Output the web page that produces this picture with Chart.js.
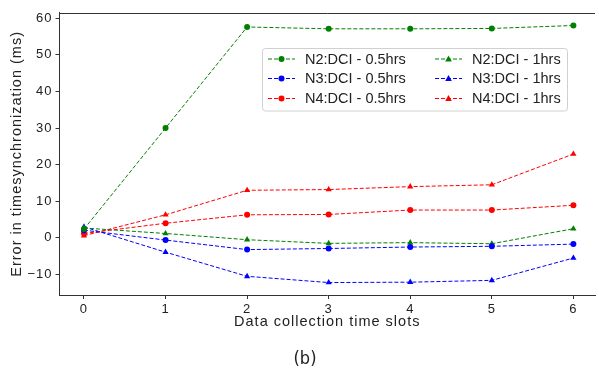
<!DOCTYPE html>
<html>
<head>
<meta charset="utf-8">
<script src="https://cdn.jsdelivr.net/npm/chart.js@4.4.1/dist/chart.umd.min.js"></script>
<style>
  html, body { margin: 0; padding: 0; background: #fff; }
  #wrap { width: 599px; height: 369px; position: relative; }
</style>
</head>
<body>
<div id="wrap"><canvas id="chart" width="599" height="369"></canvas></div>
<script>
// ── Data ───────────────────────────────────────────────────────────────────
const timeSlots = [0, 1, 2, 3, 4, 5, 6];
const seriesNames = [
  'N2:DCI - 0.5hrs', 'N3:DCI - 0.5hrs', 'N4:DCI - 0.5hrs',
  'N2:DCI - 1hrs',   'N3:DCI - 1hrs',   'N4:DCI - 1hrs'
];
const n2Half = [2.4, 30.0, 57.6, 57.1, 57.1, 57.2, 58.0];
const n3Half = [2.1, -0.6, -3.2, -2.9, -2.5, -2.3, -1.7];
const n4Half = [1.2, 4.0, 6.3, 6.4, 7.6, 7.6, 8.9];
const n2Hour = [2.7, 1.2, -0.5, -1.5, -1.3, -1.6, 2.5];
const n3Hour = [3.0, -3.9, -10.5, -12.2, -12.1, -11.6, -5.5];
const n4Hour = [0.6, 6.3, 13.0, 13.2, 14.0, 14.5, 22.9];
const yTicks = [-10, 0, 10, 20, 30, 40, 50, 60];
const xTicks = [0, 1, 2, 3, 4, 5, 6];

const GREEN = '#008000', BLUE = '#0000ff', RED = '#ff0000';
const FONT = '"Liberation Sans", Arial, sans-serif';

function mkSet(label, values, color, marker) {
  return {
    label,
    data: values.map((v, i) => ({ x: timeSlots[i], y: v })),
    borderColor: color,
    backgroundColor: color,
    borderWidth: 1,
    borderDash: [4, 2],
    pointStyle: marker,
    pointRadius: marker === 'triangle' ? 3.6 : 3,
    pointBorderWidth: 0,
    tension: 0,
    fill: false,
  };
}

const datasets = [
  mkSet(seriesNames[0], n2Half, GREEN, 'circle'),
  mkSet(seriesNames[1], n3Half, BLUE, 'circle'),
  mkSet(seriesNames[2], n4Half, RED, 'circle'),
  mkSet(seriesNames[3], n2Hour, GREEN, 'triangle'),
  mkSet(seriesNames[4], n3Hour, BLUE, 'triangle'),
  mkSet(seriesNames[5], n4Hour, RED, 'triangle'),
];

// axis text in the reference is slightly letter-spaced
const spacing = {
  id: 'spacing',
  beforeDraw(chart) { chart.ctx.letterSpacing = '1px'; },
  afterDatasetsDraw(chart) { chart.ctx.letterSpacing = '0px'; }
};

// ── Frame, legend box, caption ─────────────────────────────────────────────
const extras = {
  id: 'extras',
  afterDraw(chart) {
    const { ctx, chartArea: a } = chart;
    ctx.save();
    ctx.letterSpacing = '0px';
    // top spine
    ctx.strokeStyle = '#333';
    ctx.lineWidth = 1;
    ctx.beginPath();
    ctx.moveTo(a.left, Math.round(a.top) + 0.5);
    ctx.lineTo(a.right, Math.round(a.top) + 0.5);
    ctx.stroke();

    // legend
    const bx = 262.5, by = 48.5, bw = 305, bh = 62.5;
    ctx.fillStyle = 'rgba(255,255,255,0.85)';
    ctx.strokeStyle = '#d0d0d0';
    ctx.beginPath();
    ctx.roundRect(bx, by, bw, bh, 3);
    ctx.fill();
    ctx.stroke();
    const rows = [59, 78.5, 98.5];
    const cols = [268, 435];
    const textOff = 37;
    ctx.font = '14.5px ' + FONT;
    ctx.textBaseline = 'middle';
    chart.data.datasets.forEach((ds, i) => {
      const cx = cols[Math.floor(i / 3)], cy = rows[i % 3];
      ctx.strokeStyle = ds.borderColor;
      ctx.setLineDash([4, 2]);
      ctx.beginPath();
      ctx.moveTo(cx, cy);
      ctx.lineTo(cx + 27, cy);
      ctx.stroke();
      ctx.setLineDash([]);
      ctx.fillStyle = ds.borderColor;
      ctx.beginPath();
      const mx = cx + 13.5;
      if (ds.pointStyle === 'triangle') {
        ctx.moveTo(mx, cy - 3.6);
        ctx.lineTo(mx + 3.3, cy + 2.4);
        ctx.lineTo(mx - 3.3, cy + 2.4);
        ctx.closePath();
      } else {
        ctx.arc(mx, cy, 3, 0, Math.PI * 2);
      }
      ctx.fill();
      ctx.fillStyle = '#222';
      ctx.fillText(ds.label, cx + textOff, cy + 0.5);
    });

    // caption
    ctx.font = '18px "Liberation Sans Narrow", "DejaVu Sans Condensed", sans-serif';
    ctx.textAlign = 'center';
    ctx.fillStyle = '#222';
    ctx.fillText('(b)', 305, 359);
    ctx.restore();
  }
};

new Chart(document.getElementById('chart'), {
  type: 'line',
  data: { datasets },
  plugins: [spacing, extras],
  options: {
    responsive: false,
    animation: false,
    layout: { padding: { top: 12.7, right: 0, left: 0, bottom: 0 } },
    plugins: { legend: { display: false }, tooltip: { enabled: false } },
    scales: {
      x: {
        type: 'linear',
        min: -0.3,
        max: 6.265,
        afterFit: s => { s.height = 74; },
        afterBuildTicks: s => { s.ticks = xTicks.map(v => ({ value: v })); },
        grid: { drawOnChartArea: false, drawTicks: true, tickLength: 4, color: '#333' },
        border: { display: true, color: '#333', width: 1 },
        ticks: { padding: 3, color: '#222', font: { family: FONT, size: 13 }, maxRotation: 0 },
        title: {
          display: true,
          text: 'Data collection time slots',
          color: '#222',
          font: { family: FONT, size: 14.5 },
          padding: { top: 0, bottom: 38 }
        }
      },
      y: {
        type: 'linear',
        min: -15.6,
        max: 61.5,
        afterFit: s => { s.width = 59.5; },
        afterBuildTicks: s => { s.ticks = yTicks.map(v => ({ value: v })); },
        grid: { drawOnChartArea: false, drawTicks: true, tickLength: 4, color: '#333' },
        border: { display: true, color: '#333', width: 1 },
        ticks: {
          padding: 3,
          color: '#222',
          font: { family: FONT, size: 13 },
          callback: v => (v < 0 ? '\u2212' + Math.abs(v) : String(v))
        },
        title: {
          display: true,
          text: 'Error in timesynchronization (ms)',
          color: '#222',
          font: { family: FONT, size: 14.5 },
          padding: { top: 8, bottom: 0 }
        }
      }
    }
  }
});
</script>
</body>
</html>
